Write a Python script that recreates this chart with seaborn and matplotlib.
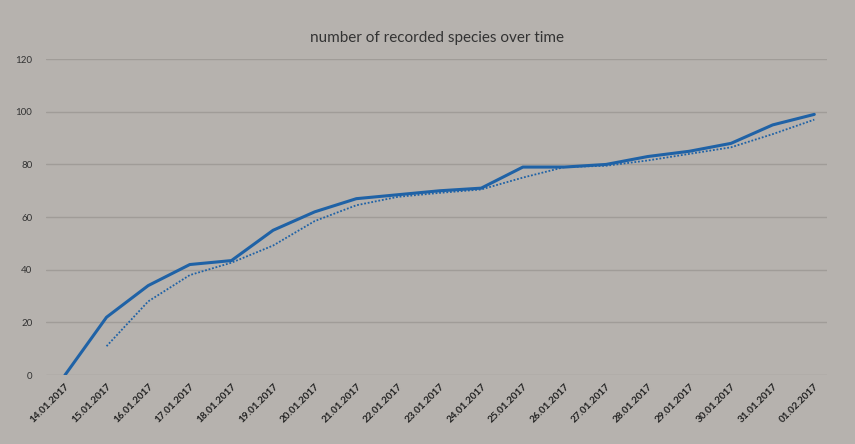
import numpy as np
import pandas as pd
import matplotlib
matplotlib.use("Agg")
import matplotlib.pyplot as plt
import seaborn as sns

dates = ["14.01.2017", "15.01.2017", "16.01.2017", "17.01.2017", "18.01.2017",
         "19.01.2017", "20.01.2017", "21.01.2017", "22.01.2017", "23.01.2017",
         "24.01.2017", "25.01.2017", "26.01.2017", "27.01.2017", "28.01.2017",
         "29.01.2017", "30.01.2017", "31.01.2017", "01.02.2017"]
species = [0, 22, 34, 42, 43.5, 55, 62, 67, 68.5, 70, 71, 79, 79, 80, 83, 85, 88, 95, 99]
# dotted trend line, starts on the second day
trend = [np.nan, 11, 28, 38, 42.7, 49.2, 58.5, 64.5, 67.7, 69.2, 70.5, 75, 79,
         79.5, 81.5, 84, 86.5, 91.5, 97]

bg = "#b6b2ae"
blue = "#1f62a6"

sns.set_style("whitegrid", {"axes.facecolor": bg, "figure.facecolor": bg,
                            "grid.color": "#a09c98", "axes.edgecolor": bg})
plt.rcParams["font.family"] = ["Lato", "DejaVu Sans"]

df = pd.DataFrame({"date": dates, "species": species, "trend": trend})
df["pos"] = np.arange(len(dates))

fig = plt.figure(figsize=(8.55, 4.44), dpi=100)
ax = fig.add_axes([0.054, 0.155, 0.913, 0.712])

sns.lineplot(data=df, x="pos", y="species", ax=ax, color=blue, linewidth=2.2)
sns.lineplot(data=df.dropna(), x="pos", y="trend", ax=ax, color=blue,
             linewidth=1.3, linestyle=(0, (1, 1)))

ax.set_ylim(0, 120)
ax.set_yticks(range(0, 121, 20))
ax.set_xlim(-0.45, len(dates) - 0.7)
ax.set_xticks(df["pos"])
ax.set_xticklabels(dates, rotation=45, ha="right", rotation_mode="anchor",
                   fontsize=7.2, fontweight="bold", color="#222222")
ax.tick_params(axis="y", labelsize=7, colors="#333333", length=0, pad=10)
ax.tick_params(axis="x", length=0, pad=5)
ax.grid(axis="x", visible=False)
ax.grid(axis="y", linewidth=1.0)
ax.set_xlabel("")
ax.set_ylabel("")
for s in ax.spines.values():
    s.set_visible(False)

fig.text(0.511, 0.915, "number of recorded species over time", ha="center",
         va="center", fontsize=11, color="#333333")

fig.savefig("out.png", dpi=100, facecolor=bg)
